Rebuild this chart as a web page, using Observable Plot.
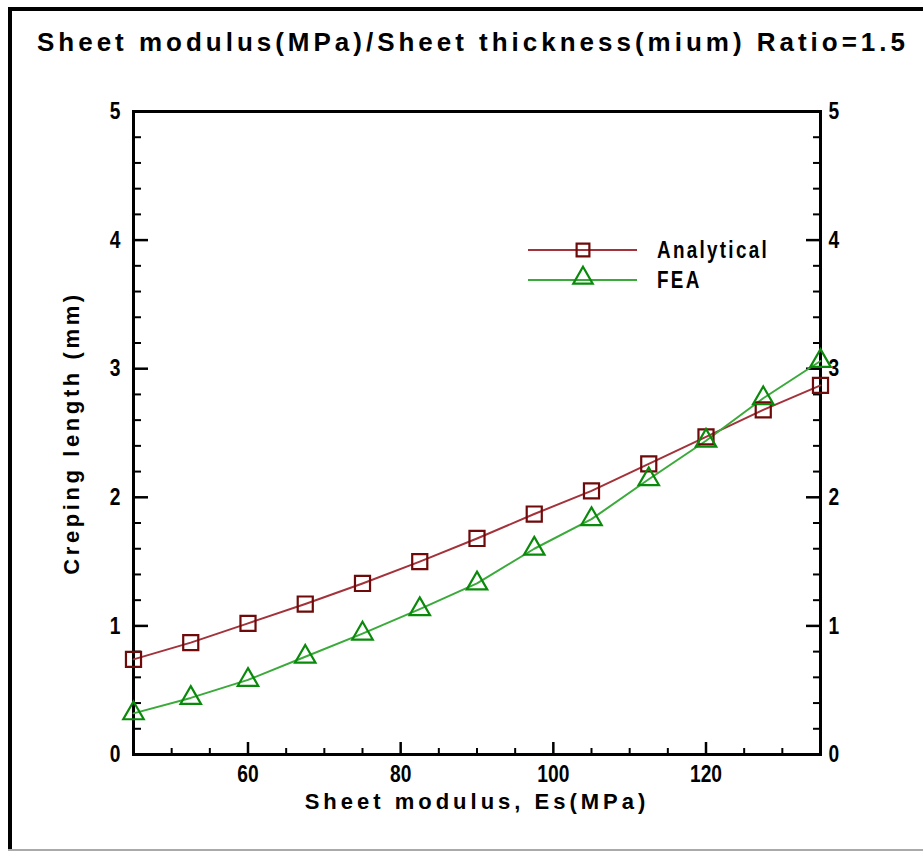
<!DOCTYPE html>
<html><head><meta charset="utf-8">
<script src="https://cdn.jsdelivr.net/npm/d3@7"></script>
<script src="https://cdn.jsdelivr.net/npm/@observablehq/plot@0.6"></script>
<style>
body{margin:0;background:#fff;}
#wrap{position:relative;width:923px;height:851px;overflow:hidden;background:#fff;font-family:"Liberation Sans",Arial,sans-serif;}
#bl{position:absolute;left:8px;top:7px;width:4px;height:844px;background:#000}
#bt{position:absolute;left:8px;top:7px;width:915px;height:4px;background:#000}
#bb{position:absolute;left:8px;top:849px;width:915px;height:2px;background:#aaa}
#chart{position:absolute;left:0;top:0}
#over{position:absolute;left:0;top:0}
</style></head>
<body>
<div id="wrap">
  <div id="bl"></div><div id="bt"></div><div id="bb"></div>
  <div id="chart"></div>
  <svg id="over" width="923" height="851"></svg>
</div>
<script>
const titleText = "Sheet modulus(MPa)/Sheet thickness(mium) Ratio=1.5";
const xLabel = "Sheet modulus, Es(MPa)";
const yLabel = "Creping length (mm)";
const seriesNames = ["Analytical", "FEA"];
const seriesLine = ["#a3323a", "#3aaa3a"];
const seriesMarker = ["#6e0a0a", "#0a8a0a"];

const xValues = [45, 52.5, 60, 67.5, 75, 82.5, 90, 97.5, 105, 112.5, 120, 127.5, 135];
const analytical = [0.74, 0.87, 1.02, 1.17, 1.33, 1.50, 1.68, 1.87, 2.05, 2.26, 2.47, 2.68, 2.87];
const fea = [0.32, 0.44, 0.58, 0.76, 0.94, 1.13, 1.33, 1.60, 1.83, 2.14, 2.44, 2.77, 3.06];

const xTicks = [60, 80, 100, 120];
const xMinor = [50, 55, 65, 70, 75, 85, 90, 95, 105, 110, 115, 125, 130];
const yTicks = [0, 1, 2, 3, 4, 5];
const yMinor = [0.2, 0.4, 0.6, 0.8, 1.2, 1.4, 1.6, 1.8, 2.2, 2.4, 2.6, 2.8, 3.2, 3.4, 3.6, 3.8, 4.2, 4.4, 4.6, 4.8];

const rows = [];
xValues.forEach((x, i) => {
  rows.push({x, y: analytical[i], s: seriesNames[0]});
  rows.push({x, y: fea[i], s: seriesNames[1]});
});

const font = '"Liberation Sans",Arial,sans-serif';
const fmt = d3.format("d");

const chart = Plot.plot({
  width: 923, height: 851,
  marginTop: 111, marginBottom: 97, marginLeft: 133, marginRight: 103,
  x: {domain: [45, 135]},
  y: {domain: [0, 5]},
  color: {domain: seriesNames, range: seriesLine},
  style: {fontFamily: font, background: "transparent", color: "#000"},
  marks: [
    Plot.axisX(xTicks, {anchor: "bottom", tickSize: 0, tickPadding: 10, label: null, tickFormat: fmt, fontWeight: "bold"}),
    Plot.axisX(xTicks, {anchor: "top", frameAnchor: "bottom", tickSize: 13, fill: "none", strokeWidth: 2.5, label: null}),
    Plot.axisX(xMinor, {anchor: "top", frameAnchor: "bottom", tickSize: 7, fill: "none", strokeWidth: 2, label: null}),
    Plot.axisY(yTicks, {anchor: "left", tickSize: 0, tickPadding: 13, label: null, tickFormat: fmt, fontWeight: "bold"}),
    Plot.axisY(yTicks, {anchor: "right", frameAnchor: "left", tickSize: 14, fill: "none", strokeWidth: 2.5, label: null}),
    Plot.axisY(yMinor, {anchor: "right", frameAnchor: "left", tickSize: 7, fill: "none", strokeWidth: 2, label: null}),
    Plot.axisY(yTicks, {anchor: "right", tickSize: 0, tickPadding: 8, label: null, tickFormat: fmt, fontWeight: "bold"}),
    Plot.axisY(yTicks, {anchor: "left", frameAnchor: "right", tickSize: 14, fill: "none", strokeWidth: 2.5, label: null}),
    Plot.axisY(yMinor, {anchor: "left", frameAnchor: "right", tickSize: 7, fill: "none", strokeWidth: 2, label: null}),
    Plot.frame({stroke: "#000", strokeWidth: 3}),
    Plot.line(rows, {x: "x", y: "y", z: "s", stroke: "s", strokeWidth: 2}),
    Plot.dot(rows.filter(d => d.s === seriesNames[0]), {x: "x", y: "y", symbol: "square", r: 8.5, stroke: seriesMarker[0], strokeWidth: 2.2, fill: "none"}),
    Plot.dot(rows.filter(d => d.s === seriesNames[1]), {x: "x", y: "y", symbol: "triangle", r: 7.6, stroke: seriesMarker[1], strokeWidth: 2.2, fill: "none"}),
    Plot.text([xLabel], {frameAnchor: "bottom", dy: 54, lineAnchor: "bottom", textAnchor: "middle", text: d => d, fontSize: 22, fontWeight: "bold"}),
    Plot.text([yLabel], {frameAnchor: "left", dx: -62, rotate: -90, textAnchor: "middle", text: d => d, fontSize: 22, fontWeight: "bold"})
  ]
});
document.getElementById("chart").appendChild(chart);

// tick labels: taller, condensed glyphs; axis titles spaced
d3.select(chart).selectAll("text").each(function() {
  const t = this.textContent;
  const s = d3.select(this);
  if (t === xLabel) s.style("letter-spacing", "4px");
  else if (t === yLabel) s.style("letter-spacing", "3.6px");
  else {
    s.style("font-size", "24px").style("font-weight", "bold");
    const tr = s.attr("transform") || "";
    s.attr("transform", tr + " scale(0.8,1)");
  }
});

const ov = d3.select("#over");
// title
ov.append("text").attr("x", 37).attr("y", 51).text(titleText)
  .attr("font-family", font).attr("font-weight", "bold").attr("font-size", 26)
  .attr("textLength", 868).attr("lengthAdjust", "spacing");

// legend
[{y: 250, i: 0}, {y: 280, i: 1}].forEach(({y, i}) => {
  ov.append("line").attr("x1", 528).attr("x2", 637).attr("y1", y).attr("y2", y)
    .attr("stroke", seriesLine[i]).attr("stroke-width", 2);
  const sym = i === 0 ? d3.symbolSquare : d3.symbolTriangle;
  ov.append("path").attr("d", d3.symbol(sym, Math.PI * 7.2 * 7.2)())
    .attr("transform", `translate(583,${i === 0 ? y : y - 2})`)
    .attr("fill", "none").attr("stroke", seriesMarker[i]).attr("stroke-width", 2.2);
  ov.append("text").attr("transform", `translate(657,${y + 8}) scale(0.82,1)`).text(seriesNames[i])
    .attr("font-family", font).attr("font-weight", "bold").attr("font-size", 23)
    .style("letter-spacing", "2.8px");
});
</script>
</body></html>
